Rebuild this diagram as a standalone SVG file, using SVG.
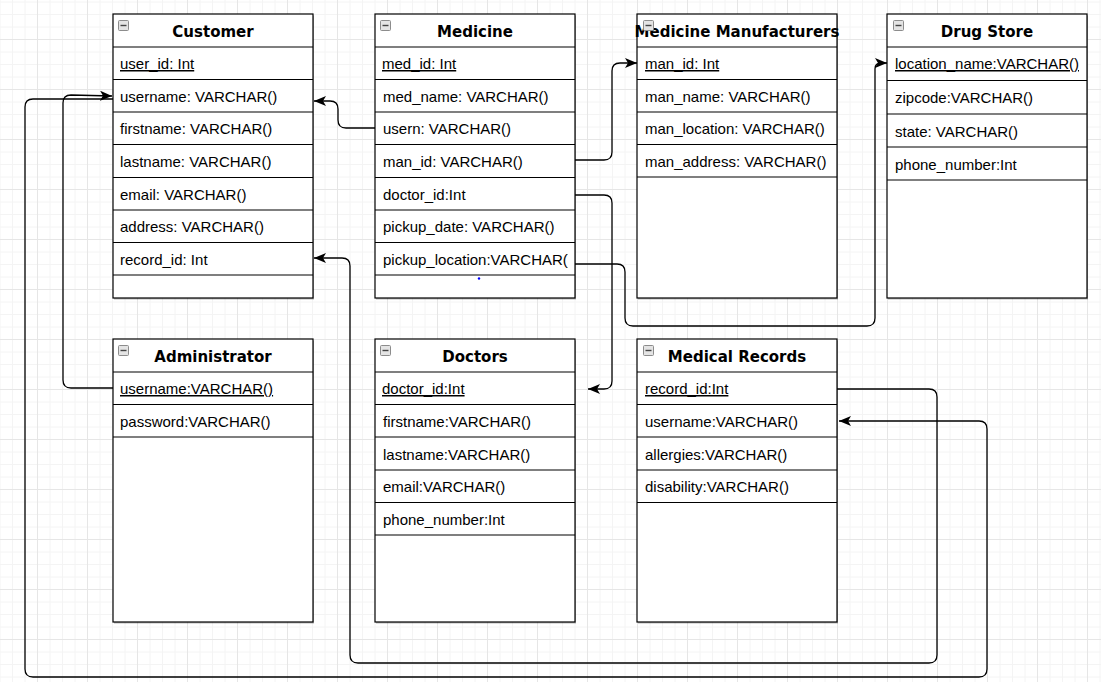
<svg xmlns="http://www.w3.org/2000/svg" width="1101" height="682" viewBox="0 0 1101 682">
<style>
.tb{fill:#fff;stroke:#000;stroke-width:1.2}
.sh{fill:#000;opacity:.28}
.ln{stroke:#000;stroke-width:1.2}
.hd{font-family:"DejaVu Sans",Verdana,sans-serif;font-weight:bold;font-size:15px;fill:#000;text-anchor:middle}
.fd{font-family:"Liberation Sans",Arial,Helvetica,sans-serif;font-size:15px;fill:#000}
.pk{text-decoration:underline}
.ic{fill:#e4e4e4;stroke:#8c8c8c;stroke-width:1}
.icm{stroke:#444;stroke-width:1.4}
.cn{fill:none;stroke:#000;stroke-width:1.3;marker-end:url(#arr)}
</style>
<defs>
<pattern id="grid" width="50" height="50" patternUnits="userSpaceOnUse" x="37" y="39">
<path d="M13 0V50M25.5 0V50M38 0V50M0 13H50M0 25.5H50M0 38H50" stroke="#f4f4f4" stroke-width="1" fill="none"/>
<path d="M0.5 0V50M0 0.5H50" stroke="#e6e6e6" stroke-width="1" fill="none"/>
</pattern>
<marker id="arr" viewBox="0 0 12 10" refX="12" refY="5" markerWidth="12" markerHeight="10" markerUnits="userSpaceOnUse" orient="auto">
<path d="M0,0 L12,5 L0,10 L3,5 Z" fill="#000"/>
</marker>
<clipPath id="clipMed"><rect x="375" y="14" width="193" height="284"/></clipPath>
<g id="icon"><rect class="ic" x="0.5" y="0.5" width="10" height="10" rx="1"/><path class="icm" d="M2.5 5.5H8.5"/></g>
</defs>
<rect width="1101" height="682" fill="#fff"/>
<rect width="1101" height="682" fill="url(#grid)"/>

<g id="customer">
<rect class="sh" x="114" y="15.5" width="200" height="284"/>
<rect class="tb" x="113" y="14" width="200" height="284"/>
<path class="ln" d="M113 47H313M113 79.5H313M113 112H313M113 144.5H313M113 177.5H313M113 210H313M113 242.5H313M113 275H313"/>
<text class="hd" x="213" y="37">Customer</text>
<use href="#icon" x="118" y="20"/>
<text class="fd pk" x="120" y="69">user_id: Int</text>
<text class="fd" x="120" y="102">username: VARCHAR()</text>
<text class="fd" x="120" y="134">firstname: VARCHAR()</text>
<text class="fd" x="120" y="167">lastname: VARCHAR()</text>
<text class="fd" x="120" y="200">email: VARCHAR()</text>
<text class="fd" x="120" y="232">address: VARCHAR()</text>
<text class="fd" x="120" y="265">record_id: Int</text>
</g>

<g id="medicine">
<rect class="sh" x="376" y="15.5" width="200" height="284"/>
<rect class="tb" x="375" y="14" width="200" height="284"/>
<path class="ln" d="M375 47H575M375 79.5H575M375 112H575M375 144.5H575M375 177.5H575M375 210H575M375 242.5H575M375 275H575"/>
<text class="hd" x="475" y="37">Medicine</text>
<use href="#icon" x="380" y="20"/>
<g clip-path="url(#clipMed)">
<text class="fd pk" x="382" y="69">med_id: Int</text>
<text class="fd" x="383" y="102">med_name: VARCHAR()</text>
<text class="fd" x="383" y="134">usern: VARCHAR()</text>
<text class="fd" x="383" y="167">man_id: VARCHAR()</text>
<text class="fd" x="383" y="200">doctor_id:Int</text>
<text class="fd" x="383" y="232">pickup_date: VARCHAR()</text>
<text class="fd" x="383" y="265">pickup_location:VARCHAR()</text>
</g>
<circle cx="479" cy="278.5" r="1.2" fill="#0000ff"/>
</g>

<g id="manufacturers">
<rect class="sh" x="638" y="15.5" width="200" height="284"/>
<rect class="tb" x="637" y="14" width="200" height="284"/>
<path class="ln" d="M637 47H837M637 79.5H837M637 112H837M637 144.5H837M637 177H837"/>
<text class="hd" x="737" y="37">Medicine Manufacturers</text>
<use href="#icon" x="643" y="20"/>
<text class="fd pk" x="645" y="69">man_id: Int</text>
<text class="fd" x="645" y="102">man_name: VARCHAR()</text>
<text class="fd" x="645" y="134">man_location: VARCHAR()</text>
<text class="fd" x="645" y="167">man_address: VARCHAR()</text>
</g>

<g id="drugstore">
<rect class="sh" x="888" y="15.5" width="200" height="284"/>
<rect class="tb" x="887" y="14" width="200" height="284"/>
<path class="ln" d="M887 47H1087M887 80.5H1087M887 114H1087M887 147H1087M887 180H1087"/>
<text class="hd" x="987" y="37">Drug Store</text>
<use href="#icon" x="893" y="20"/>
<text class="fd pk" x="895" y="69">location_name:VARCHAR()</text>
<text class="fd" x="895" y="103">zipcode:VARCHAR()</text>
<text class="fd" x="895" y="137">state: VARCHAR()</text>
<text class="fd" x="895" y="170">phone_number:Int</text>
</g>

<g id="administrator">
<rect class="sh" x="114" y="340.5" width="200" height="283"/>
<rect class="tb" x="113" y="339" width="200" height="283"/>
<path class="ln" d="M113 372H313M113 404.5H313M113 437H313"/>
<text class="hd" x="213" y="362">Administrator</text>
<use href="#icon" x="118" y="345"/>
<text class="fd pk" x="120" y="394">username:VARCHAR()</text>
<text class="fd" x="120" y="427">password:VARCHAR()</text>
</g>

<g id="doctors">
<rect class="sh" x="376" y="340.5" width="200" height="283"/>
<rect class="tb" x="375" y="339" width="200" height="283"/>
<path class="ln" d="M375 372H575M375 404.5H575M375 437H575M375 470H575M375 502.5H575M375 535H575"/>
<text class="hd" x="475" y="362">Doctors</text>
<use href="#icon" x="380" y="345"/>
<text class="fd pk" x="382" y="394">doctor_id:Int</text>
<text class="fd" x="383" y="427">firstname:VARCHAR()</text>
<text class="fd" x="383" y="460">lastname:VARCHAR()</text>
<text class="fd" x="383" y="492">email:VARCHAR()</text>
<text class="fd" x="383" y="525">phone_number:Int</text>
</g>

<g id="medicalrecords">
<rect class="sh" x="638" y="340.5" width="200" height="283"/>
<rect class="tb" x="637" y="339" width="200" height="283"/>
<path class="ln" d="M637 372H837M637 404.5H837M637 437H837M637 470H837M637 502.5H837"/>
<text class="hd" x="737" y="362">Medical Records</text>
<use href="#icon" x="643" y="345"/>
<text class="fd pk" x="645" y="394">record_id:Int</text>
<text class="fd" x="645" y="427">username:VARCHAR()</text>
<text class="fd" x="645" y="460">allergies:VARCHAR()</text>
<text class="fd" x="645" y="492">disability:VARCHAR()</text>
</g>

<g id="connectors">
<path class="cn" d="M375,128 L346,128 Q338,128 338,120 L338,109 Q338,101 330,101 L314,101"/>
<path class="cn" d="M575,160 L604,160 Q612,160 612,152 L612,71 Q612,63 620,63 L637,63"/>
<path class="cn" d="M575,195 L604,195 Q612,195 612,203 L612,381 Q612,389 604,389 L588,389"/>
<path class="cn" d="M575,264 L617,264 Q625,264 625,272 L625,318 Q625,326 633,326 L867,326 Q875,326 875,318 L875,69 Q875,63 881,63 L887,63"/>
<path class="cn" d="M113,388 L71,388 Q63,388 63,380 L63,103 Q63,95 71,95 L112,96"/>
<path class="cn" d="M113,99 L33,99 Q25,99 25,107 L25,669 Q25,677 33,677 L979,677 Q987,677 987,669 L987,429 Q987,421 979,421 L839,421"/>
<path class="cn" d="M837,389 L929,389 Q937,389 937,397 L937,655 Q937,663 929,663 L358,663 Q350,663 350,655 L350,266 Q350,258 342,258 L314,258"/>
</g>
</svg>
